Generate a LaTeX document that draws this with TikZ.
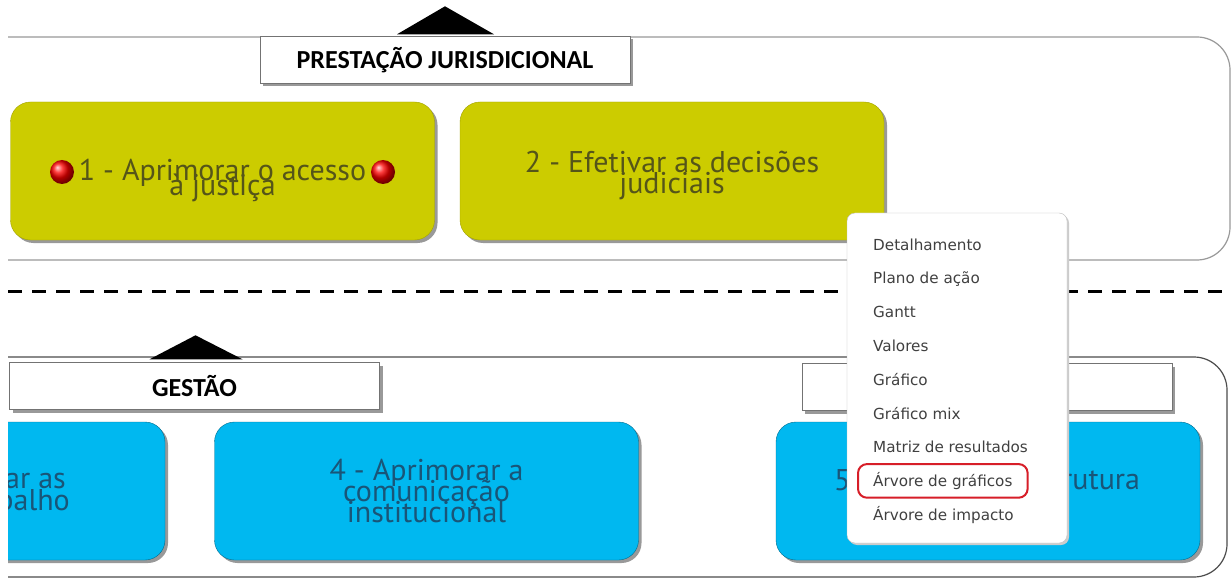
\documentclass[tikz,border=0pt]{standalone}
\usepackage{fontspec}
\setmainfont{DejaVu Sans}
\newfontfamily\labelfont{Carlito}
\newfontfamily\goalfont{PT Sans}
\usepackage{tikz}
\usetikzlibrary{shadows,fit}
\definecolor{goalyellow}{RGB}{204,204,0}
\definecolor{goalblue}{RGB}{0,184,240}
\definecolor{inkyellow}{RGB}{85,85,25}
\definecolor{inkblue}{RGB}{25,85,120}
\definecolor{menured}{RGB}{215,30,40}
\newcommand{\goalsize}{\fontsize{30}{21}\selectfont\lineskiplimit=-50pt}
\newcommand{\widthgoal}{424pt}
\newcommand{\heightgoal}{138pt}
\tikzset{
    shadowed/.style={drop shadow={shadow xshift=3pt, shadow yshift=-3pt, fill=black!40, opacity=1}},
    panel/.style={rounded corners=33pt, line width=1.2pt},
    labelbox/.style={draw=black!55, fill=white, shadowed, minimum width=370pt, minimum height=47pt, font=\labelfont\bfseries\fontsize{26}{26}\selectfont},
    goal/.style={rounded corners=20pt, shadowed, minimum width=\widthgoal, minimum height=\heightgoal},
    yellowgoal/.style={goal, fill=goalyellow, draw=goalyellow!80!black},
    bluegoal/.style={goal, fill=goalblue, draw=goalblue!60!black},
    goaltext/.style={font=\goalfont\goalsize, text=inkblue, inner sep=0pt, align=center},
    dot/.style={circle, minimum size=24pt, inner sep=0pt, shading=ball, ball color=red},
    menu/.style={draw=black!25, fill=white, rounded corners=8pt, minimum width=220pt, minimum height=330pt,
        drop shadow={shadow xshift=2pt, shadow yshift=-2pt, fill=black!20, opacity=1}},
    item/.style={anchor=west, font=\fontsize{15.2}{15}\selectfont, text=black!75, inner sep=0pt},
    hilite/.style={draw=menured, line width=2pt, rounded corners=9pt, inner xsep=15pt, inner ysep=8pt},
    sepline/.style={line width=3pt, dash pattern=on 14pt off 10pt}
}

\begin{document}
\begin{tikzpicture}[x=1pt, y=-1pt]
    \useasboundingbox (0,0) rectangle (1231,580);
    \fill[white] (0,0) rectangle (1231,580);
    \clip (8,0) rectangle (1231,580);

    \draw[panel, draw=black!40] (8,37) -- (1230,37) -- (1230,260) -- (8,260);
    \draw[panel, draw=black!70] (8,357) -- (1227,357) -- (1227,577) -- (8,577);
    \draw[sepline] (8,291) -- (1231,291);

    \node[labelbox] (lblA) at (445,60) {PRESTAÇÃO JURISDICIONAL};
    \node[labelbox] (lblB) at (194.5,386) {GESTÃO};
    \node[labelbox] (lblC) at (987,387) {};
    \fill (lblA.north) ++(-48,-2) -- ++(48,-28) -- ++(49,28) -- cycle;
    \fill (lblB.north) ++(-45,-3) -- ++(46,-24) -- ++(47,24) -- cycle;

    \node[yellowgoal] (g1) at (222.5,171) {};
    \node[goaltext, text=inkyellow] (g1txt) at ([yshift=-10pt]g1.center) {1 - Aprimorar o acesso\\[-6pt]à justiça};
    \node[yellowgoal] (g2) at (672,171) {};
    \node[goaltext, text=inkyellow] (g2txt) at ([yshift=-4pt]g2.center) {2 - Efetivar as decisões\\judiciais};
    \node[dot] (dotL) at ([xshift=-160.5pt, yshift=-1pt]g1.center) {};
    \node[dot] (dotR) at ([xshift=160.5pt, yshift=-1pt]g1.center) {};

    \node[bluegoal] (g3) at (-47,491) {};
    \node[goaltext, anchor=base east] (g3a) at (66,488) {ar as};
    \node[goaltext, anchor=base east] (g3b) at (70,510) {balho};
    \node[bluegoal] (g4) at (426.5,491) {};
    \node[goaltext] (g4txt) at (g4.center) {4 - Aprimorar a\\comunicação\\institucional};
    \node[bluegoal] (g5) at (988,491) {};
    \node[goaltext, anchor=west] (g5a) at (834,480) {5};
    \node[goaltext, anchor=west] (g5b) at (1062,480) {rutura};

    \node[menu] (menu) at (957,378) {};
    \foreach \entry [count=\i] in {Detalhamento, Plano de ação, Gantt, Valores, Gráfico, Gráfico mix,
            Matriz de resultados, Árvore de gráficos, Árvore de impacto}
        \node[item] (m\i) at (873,{245+33.7*(\i-1)}) {\entry};
    \node[hilite, fit=(m8)] (pick) {};
\end{tikzpicture}
\end{document}
